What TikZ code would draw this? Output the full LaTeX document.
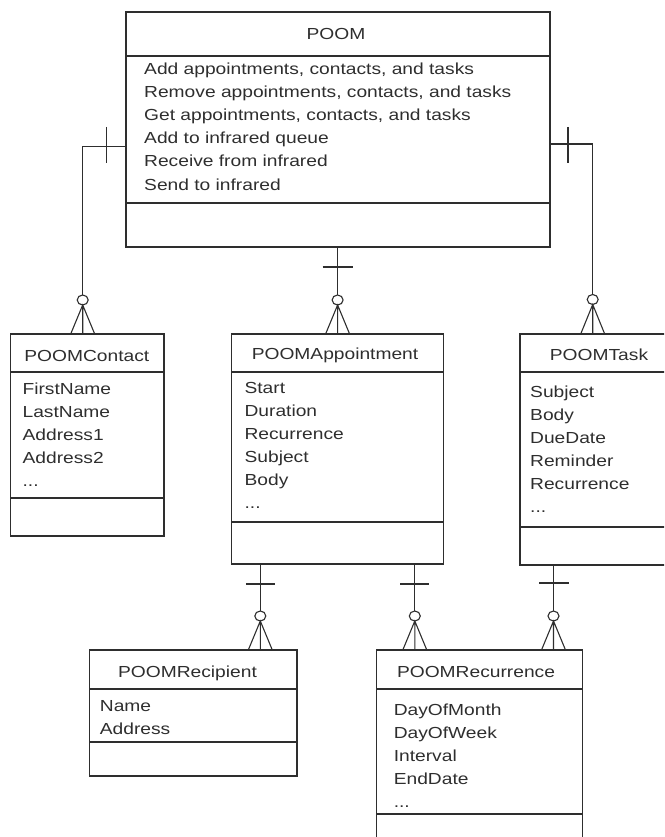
\documentclass[tikz,border=0pt]{standalone}
\usepackage{fontspec}
\setmainfont{Liberation Sans}[FakeStretch=1.2]
\usetikzlibrary{shapes.geometric}
\definecolor{ink}{HTML}{2E2E2E}
\newcommand\ddd{.\kern0pt.\kern0pt.}
\newcommand\crowfoot[2]{\draw[conn] ([xshift=-12pt]#2.north -| #1) -- (#1.south) -- ([xshift=12pt]#2.north -| #1) (#1.south) -- (#2.north -| #1);}
\newcommand\attrlist[4]{\foreach \itm [count=\i from 0] in {#4} {\node[txt] (#1-\i) at (#2,#3+23*\i) {\itm};}}
\begin{document}
\begin{tikzpicture}[x=1pt,y=-1pt,
  box/.style={draw=ink,line width=1.3pt,inner sep=0pt,outer sep=0pt,anchor=north west},
  div/.style={draw=ink,line width=1.3pt},
  conn/.style={draw=ink,line width=1.1pt},
  ring/.style={ellipse,draw=ink,line width=1.1pt,fill=white,minimum width=11pt,minimum height=10pt,inner sep=0pt,outer sep=0pt},
  txt/.style={anchor=base west,inner sep=0pt,text=ink,font=\fontsize{16}{23}\selectfont},
  ttl/.style={anchor=base,inner sep=0pt,text=ink,font=\fontsize{16}{23}\selectfont}]
\useasboundingbox (0,0) rectangle (664,837);
\clip (0,0) rectangle (664,837);
% boxes
\node[box,minimum width=424pt,minimum height=235pt] (poom) at (126,12) {};
\node[box,minimum width=153.3pt,minimum height=202pt] (contact) at (10.7,334) {};
\node[box,minimum width=211.8pt,minimum height=230pt] (appt) at (231.7,334) {};
\node[box,minimum width=158pt,minimum height=231pt] (task) at (520,334) {};
\node[box,minimum width=207.3pt,minimum height=126pt] (recip) at (89.7,650) {};
\node[box,minimum width=206.1pt,minimum height=200pt] (recur) at (376.6,650) {};
% dividers
\draw[div] (poom.west |- 0,56) -- (poom.east |- 0,56) (poom.west |- 0,203) -- (poom.east |- 0,203);
\draw[div] (contact.west |- 0,372) -- (contact.east |- 0,372) (contact.west |- 0,498) -- (contact.east |- 0,498);
\draw[div] (appt.west |- 0,372) -- (appt.east |- 0,372) (appt.west |- 0,522) -- (appt.east |- 0,522);
\draw[div] (task.west |- 0,372) -- (task.east |- 0,372) (task.west |- 0,527) -- (task.east |- 0,527);
\draw[div] (recip.west |- 0,689) -- (recip.east |- 0,689) (recip.west |- 0,742) -- (recip.east |- 0,742);
\draw[div] (recur.west |- 0,689) -- (recur.east |- 0,689) (recur.west |- 0,814) -- (recur.east |- 0,814);
% titles
\node[ttl] (poomT) at (336,40) {POOM};
\node[ttl] (contactT) at (86.8,361) {POOMContact};
\node[ttl] (apptT) at (335,359.3) {POOMAppointment};
\node[ttl] (taskT) at (599,360.7) {POOMTask};
\node[ttl] (recipT) at (187.5,677.3) {POOMRecipient};
\node[ttl] (recurT) at (476,677.3) {POOMRecurrence};
% attributes
\attrlist{poomA}{144}{75}{{Add appointments, contacts, and tasks},{Remove appointments, contacts, and tasks},{Get appointments, contacts, and tasks},{Add to infrared queue},{Receive from infrared},{Send to infrared}}
\attrlist{contactA}{22.4}{394.3}{FirstName,LastName,Address1,Address2,\ddd}
\attrlist{apptA}{244.4}{393}{Start,Duration,Recurrence,Subject,Body,\ddd}
\attrlist{taskA}{530}{397.3}{Subject,Body,DueDate,Reminder,Recurrence,\ddd}
\attrlist{recipA}{99.7}{711.7}{Name,Address}
\attrlist{recurA}{393.6}{715.7}{DayOfMonth,DayOfWeek,Interval,EndDate,\ddd}
% POOM -> POOMContact
\coordinate (lb) at (82.7,146.7);
\node[ring] (r1) at (lb |- 0,300) {};
\draw[conn] (poom.west |- lb) -- (lb) -- (r1.north);
\draw[conn] (106.7,127) -- (106.7,163);
\crowfoot{r1}{contact}
% POOM -> POOMAppointment
\node[ring] (r2) at (337.6,300) {};
\draw[conn] (poom.south -| r2) -- (r2.north);
\draw[conn] (322.6,267) -- (352.6,267);
\crowfoot{r2}{appt}
% POOM -> POOMTask
\coordinate (rb) at (592.7,144);
\node[ring] (r3) at (rb |- 0,299.5) {};
\draw[conn] (poom.east |- rb) -- (rb) -- (r3.north);
\draw[conn] (568,127) -- (568,163);
\crowfoot{r3}{task}
% POOMAppointment -> POOMRecipient
\node[ring] (r4) at (260.3,616) {};
\draw[conn] (appt.south -| r4) -- (r4.north);
\draw[conn] (245.8,584) -- (274.8,584);
\crowfoot{r4}{recip}
% POOMAppointment -> POOMRecurrence
\node[ring] (r5) at (414.8,616) {};
\draw[conn] (appt.south -| r5) -- (r5.north);
\draw[conn] (400.3,584) -- (429.3,584);
\crowfoot{r5}{recur}
% POOMTask -> POOMRecurrence
\node[ring] (r6) at (553.5,616) {};
\draw[conn] (task.south -| r6) -- (r6.north);
\draw[conn] (539,583) -- (569,583);
\crowfoot{r6}{recur}
\end{tikzpicture}
\end{document}
